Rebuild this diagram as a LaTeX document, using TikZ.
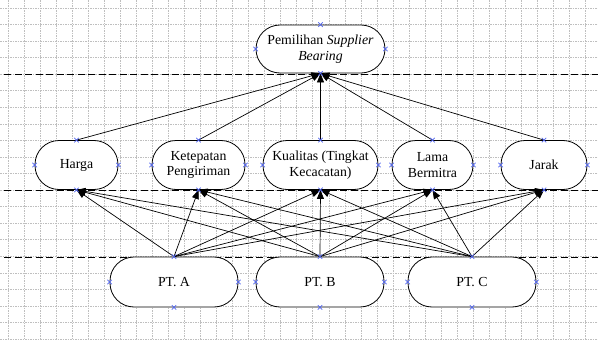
\documentclass[tikz,border=0pt]{standalone}
\usepackage{fontspec}
\setmainfont{Liberation Serif}
\usetikzlibrary{arrows.meta}
\begin{document}
\begin{tikzpicture}[x=1pt,y=-1pt,
  boxst/.style={draw, line width=0.8pt, fill=white, rounded corners=24pt,
    minimum height=49pt, align=center, inner sep=2pt,
    font=\fontsize{13.8pt}{15.8pt}\selectfont},
  conn/.style={-{Triangle[length=9pt,width=7pt]}, line width=0.7pt},
  gridline/.style={gray!50, line width=0.6pt, dash pattern=on 1.5pt off 1pt},
  sepline/.style={line width=0.9pt, dash pattern=on 7pt off 3.5pt},
  mk/.style={draw={rgb,255:red,80;green,100;blue,240}, line width=0.6pt}]
\useasboundingbox (0,0) rectangle (598,340);
\fill[white] (0,0) rectangle (598,340);
% grid
\foreach \k in {0,...,36} \draw[gridline] ({8+16.04*\k},0) -- ({8+16.04*\k},340);
\foreach \k in {0,...,20} \draw[gridline] (0,{8+16.55*\k}) -- (598,{8+16.55*\k});
% separators
\draw[sepline] (4,74) -- (598,74);
\draw[sepline] (4,190) -- (598,190);
\draw[sepline] (4,257) -- (598,257);
% nodes
\node[boxst, minimum width=129pt, minimum height=48pt] (top) at (320.5,49) {Pemilihan \textit{Supplier}\\\textit{Bearing}};
\node[boxst, minimum width=83pt] (h) at (76.5,165) {Harga};
\node[boxst, minimum width=93pt] (k) at (198.5,165) {Ketepatan\\Pengiriman};
\node[boxst, minimum width=115pt] (q) at (320.5,165) {Kualitas (Tingkat\\Kecacatan)};
\node[boxst, minimum width=81pt] (l) at (432.5,165) {Lama\\Bermitra};
\node[boxst, minimum width=86pt] (j) at (544,165) {Jarak};
\node[boxst, minimum width=128pt, minimum height=50pt] (a) at (174,282) {PT. A};
\node[boxst, minimum width=128pt, minimum height=50pt] (b) at (320,282) {PT. B};
\node[boxst, minimum width=128pt, minimum height=50pt] (c) at (472,282) {PT. C};
% connectors
\foreach \m in {h,k,q,l,j} \draw[conn] (\m.north) -- (top.south);
\foreach \p in {a,b,c} \foreach \m in {h,k,q,l,j} \draw[conn] (\p.north) -- (\m.south);
% connection point markers
\foreach \n in {top,h,k,q,l,j,a,b,c}
  \foreach \s in {north,south,east,west}
    \draw[mk] (\n.\s) +(-2.2,-2.2) -- +(2.2,2.2) +(-2.2,2.2) -- +(2.2,-2.2);
\end{tikzpicture}
\end{document}
